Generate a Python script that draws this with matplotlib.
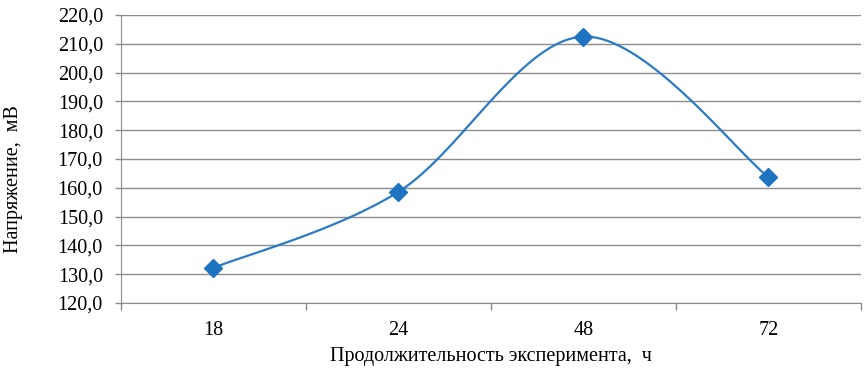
import numpy as np
import matplotlib
matplotlib.use("Agg")
from matplotlib import pyplot as plt
from matplotlib.ticker import FuncFormatter

hours = ["18", "24", "48", "72"]
voltage = [132.2, 158.6, 212.5, 163.7]

line_color = "#2B7BC4"
marker_color = "#1F74C2"
grid_color = "#8C8C8C"


def smooth(xs, ys, n = 40):
	# bezier through points, control points like excel's smoothed line
	xs = np.asarray(xs, float)
	ys = np.asarray(ys, float)
	px = np.concatenate([[xs[0]], xs, [xs[-1]]])
	py = np.concatenate([[ys[0]], ys, [ys[-1]]])
	out_x, out_y = [], []
	t = np.linspace(0, 1, n)
	for i in range(len(xs) - 1):
		p0 = np.array([px[i + 1], py[i + 1]])
		p3 = np.array([px[i + 2], py[i + 2]])
		p1 = p0 + (p3 - np.array([px[i], py[i]])) / 6
		p2 = p3 - (np.array([px[i + 3], py[i + 3]]) - p0) / 6
		b = ((1 - t) ** 3)[:, None] * p0 + (3 * (1 - t) ** 2 * t)[:, None] * p1 + (3 * (1 - t) * t ** 2)[:, None] * p2 + (t ** 3)[:, None] * p3
		out_x.extend(b[:, 0])
		out_y.extend(b[:, 1])
	return out_x, out_y


plt.rcParams["font.family"] = ["Liberation Serif", "DejaVu Serif"]
fs = 14.5

fig = plt.figure(figsize = (8.66, 3.71), dpi = 100)
ax = fig.add_axes([0.1397, 0.1833, 0.8545, 0.7763])

x = np.arange(len(hours))
sx, sy = smooth(x, voltage)
ax.plot(sx, sy, color = line_color, linewidth = 1.6, zorder = 3)
ax.plot(x, voltage, linestyle = "none", marker = "D", markersize = 9, color = marker_color, zorder = 4)

ax.set_xlim(-0.5, len(hours) - 0.5)
ax.set_ylim(120, 220)
ax.set_yticks(np.arange(120, 221, 10))
ax.yaxis.set_major_formatter(FuncFormatter(lambda v, p: "{0:.1f}".format(v).replace(".", ",")))
ax.set_xticks(x)
ax.set_xticklabels(hours)
ax.set_xticks(np.arange(-0.5, len(hours)), minor = True)
ax.tick_params(axis = "x", which = "major", length = 0, pad = 13, labelsize = fs)
ax.tick_params(axis = "x", which = "minor", length = 5, color = grid_color, width = 1)
ax.tick_params(axis = "y", length = 4, color = grid_color, width = 1, labelsize = fs, pad = 9)

ax.grid(axis = "y", color = grid_color, linewidth = 1)
ax.set_axisbelow(True)
for side in ["top", "right"]:
	ax.spines[side].set_visible(False)
ax.spines["left"].set_color(grid_color)
ax.spines["bottom"].set_color(grid_color)

ax.set_xlabel("Продолжительность эксперимента,  ч", fontsize = fs, labelpad = 5)
ax.set_ylabel("Напряжение,  мВ", fontsize = fs)
ax.yaxis.set_label_coords(-0.132, 0.43)

fig.savefig("out.png", dpi = 100)
plt.close()
